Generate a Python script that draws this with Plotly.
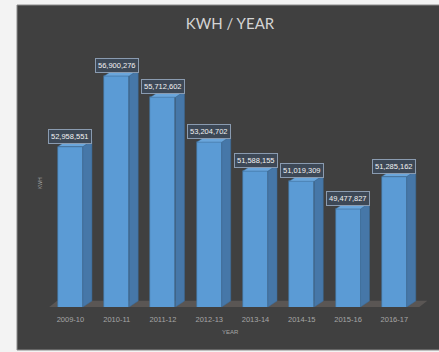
import plotly.graph_objects as go

# ---- data ----
years = ["2009-10", "2010-11", "2011-12", "2012-13", "2013-14", "2014-15", "2015-16", "2016-17"]
kwh = [52958551, 56900276, 55712602, 53204702, 51588155, 51019309, 49477827, 51285162]
chart_title = "KWH / YEAR"
x_title = "YEAR"
y_title = "KWH"

# ---- layout geometry ----
W, H = 439, 352
L, R, T, B = 45, 429, 50, 307          # plot area in pixels
XMIN, XMAX = -0.55, 7.75
YMIN, YMAX = 44e6, 58.35e6
px_x = (R - L) / (XMAX - XMIN)
px_y = (B - T) / (YMAX - YMIN)

def paper_x(p):
    return (p - L) / (R - L)

def paper_y(p):
    return (B - p) / (B - T)

bar_w = 0.54
dx = 9 / px_x            # depth offset (x units)
dy = 6 / px_y            # depth offset (y units)

FRONT = "#5b9bd5"
SIDE = "#4677a8"
TOP = "#6aa6dc"
PANEL = "#404040"

xs = list(range(len(years)))

fig = go.Figure()
fig.add_trace(go.Bar(
    x=xs, y=kwh, width=bar_w,
    marker=dict(color=FRONT, line=dict(color="#41719c", width=0.6)),
    hoverinfo="skip", showlegend=False,
))

shapes = []
# panel background
shapes.append(dict(type="rect", xref="paper", yref="paper",
                   x0=paper_x(17), x1=paper_x(440), y0=paper_y(350), y1=paper_y(5),
                   fillcolor=PANEL, line=dict(color="#8a8a8a", width=1), layer="below"))
# floor
fy0 = YMIN - 1.5 / px_y
fxl, fxr = -0.5, len(years) - 0.5
shapes.append(dict(type="path", xref="x", yref="y", layer="below",
                   path=f"M {fxl},{fy0} L {fxr},{fy0} L {fxr+dx*1.1},{fy0+dy*1.3} L {fxl+dx*1.1},{fy0+dy*1.3} Z",
                   fillcolor="#5a5654", line=dict(width=0)))
# 3D sides and tops
for x, v in zip(xs, kwh):
    xl, xr = x - bar_w / 2, x + bar_w / 2
    shapes.append(dict(type="path", xref="x", yref="y", layer="above",
                       path=f"M {xr},{YMIN} L {xr+dx},{YMIN+dy} L {xr+dx},{v+dy} L {xr},{v} Z",
                       fillcolor=SIDE, line=dict(color="#3d6a96", width=0.5)))
    shapes.append(dict(type="path", xref="x", yref="y", layer="above",
                       path=f"M {xl},{v} L {xl+dx},{v+dy} L {xr+dx},{v+dy} L {xr},{v} Z",
                       fillcolor=TOP, line=dict(color="#3d6a96", width=0.5)))

annotations = []
for x, v in zip(xs, kwh):
    annotations.append(dict(
        x=x, y=v, xref="x", yref="y", text=f"{v:,}", showarrow=False,
        yanchor="bottom", yshift=3,
        font=dict(family="Liberation Sans, Arial", size=7.5, color="#f2f2f2"),
        bgcolor="#3d4856", bordercolor="#8a9bb0", borderwidth=1, borderpad=2,
    ))
# axis titles
annotations.append(dict(x=paper_x(230), y=paper_y(332), xref="paper", yref="paper",
                        xanchor="center", yanchor="middle",
                        text=x_title, showarrow=False,
                        font=dict(family="Liberation Sans, Arial", size=6, color="#a6a6a6")))
annotations.append(dict(x=paper_x(40), y=paper_y(183), xref="paper", yref="paper",
                        xanchor="center", yanchor="middle",
                        text=y_title, showarrow=False, textangle=-90,
                        font=dict(family="Liberation Sans, Arial", size=5, color="#a6a6a6")))

fig.update_layout(
    width=W, height=H,
    margin=dict(l=L, r=W - R, t=T, b=H - B),
    paper_bgcolor="#f3f3f3",
    plot_bgcolor="rgba(0,0,0,0)",
    title=dict(text=chart_title, x=230 / W, xanchor="center", y=1 - 24 / H, yanchor="middle",
               font=dict(family="Lato, Liberation Sans", size=15, color="#d4d4d4")),
    shapes=shapes,
    annotations=annotations,
    xaxis=dict(range=[XMIN, XMAX], tickvals=xs, ticktext=years, showgrid=False, zeroline=False,
               showline=False, ticks="outside", ticklen=5, tickcolor="rgba(0,0,0,0)",
               tickfont=dict(family="Liberation Sans, Arial", size=7.5, color="#a6a6a6"),
               fixedrange=True),
    yaxis=dict(range=[YMIN, YMAX], visible=False, fixedrange=True),
    bargap=0,
)

fig.write_html("out.html")
